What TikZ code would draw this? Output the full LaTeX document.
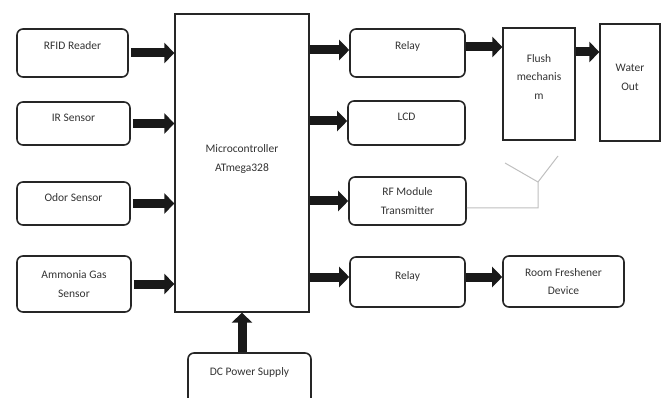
\documentclass[tikz,border=0pt]{standalone}
\usepackage{fontspec}
\setmainfont{Carlito}
\usetikzlibrary{arrows.meta,positioning,calc}
\tikzset{
	blockbox/.style={rectangle, draw=black!85, line width=1.6pt, rounded corners=6pt,
		align=center, font=\fontsize{11.5}{18.5}\selectfont, text=black!80, inner sep=2pt},
	plainbox/.style={blockbox, rounded corners=0pt, line width=1.3pt},
	raise/.style={text depth=#1},
	busarr/.style={-{Triangle[length=10pt,width=20pt]}, line width=9pt, black!90},
	antenna/.style={draw=black!25, line width=1pt}
}

\begin{document}
\begin{tikzpicture}[x=1pt,y=-1pt]
	\useasboundingbox (0,0) rectangle (664,398);
	% inputs
	\node[blockbox, minimum width=111pt, minimum height=48pt, raise=14pt] (rfid) at (72.5,53) {RFID Reader};
	\node[blockbox, minimum width=113pt, minimum height=43pt, raise=12pt] (ir) at (73.5,123.5) {IR Sensor};
	\node[blockbox, minimum width=113pt, minimum height=43pt, raise=12pt] (odor) at (73.5,203.5) {Odor Sensor};
	\node[blockbox, minimum width=114pt, minimum height=56pt] (nh3) at (74,284) {Ammonia Gas\\Sensor};
	% controller
	\node[plainbox, minimum width=134pt, minimum height=298pt, raise=10pt] (mcu) at (242,163) {Microcontroller\\ATmega328};
	\node[blockbox, minimum width=123pt, minimum height=52pt, raise=14pt] (dc) at (249.5,379) {DC Power Supply};
	% outputs
	\node[blockbox, minimum width=115pt, minimum height=48pt, raise=14pt] (relay) at (407.5,53) {Relay};
	\node[blockbox, minimum width=117pt, minimum height=44pt, raise=12pt] (lcd) at (406.5,123) {LCD};
	\node[blockbox, minimum width=117pt, minimum height=48pt] (rf) at (407.5,201) {RF Module\\Transmitter};
	\node[blockbox, minimum width=115pt, minimum height=50pt, raise=12pt] (relay2) at (407.5,282) {Relay};
	\node[blockbox, minimum width=121pt, minimum height=51pt] (room) at (563.5,281.5) {Room Freshener\\Device};
	\node[plainbox, minimum width=72pt, minimum height=112pt, raise=14pt] (flush) at (539,84) {Flush\\mechanis\\m};
	\node[plainbox, minimum width=60pt, minimum height=117pt, raise=10pt] (water) at (630,82.5) {Water\\Out};
	% arrows into the controller
	\foreach \src in {rfid,ir,odor,nh3}
		\draw[busarr] ([xshift=2pt]\src.east) -- (\src.east -| mcu.west);
	\draw[busarr] (dc.north -| mcu.south) -- (mcu.south);
	% arrows out of the controller
	\draw[busarr] ([yshift=3pt]relay.west -| mcu.east) -- ([yshift=3pt]relay.west);
	\draw[busarr] ([yshift=2pt]lcd.west -| mcu.east) -- ([yshift=2pt]lcd.west);
	\draw[busarr] (rf.west -| mcu.east) -- (rf.west);
	\draw[busarr] ([yshift=5pt]relay2.west -| mcu.east) -- ([yshift=5pt]relay2.west);
	\draw[busarr] ([yshift=6pt]relay.east) -- ([yshift=6pt]relay.east -| flush.west);
	\draw[busarr] ([yshift=32pt]flush.east) -- ([yshift=32pt]flush.east -| water.west);
	\draw[busarr] ([yshift=5pt]relay2.east) -- ([yshift=5pt]relay2.east -| room.west);
	% antenna
	\coordinate (antbase) at (538,182);
	\coordinate (antl) at (505,163);
	\coordinate (antr) at (558,156);
	\draw[antenna] ([yshift=-7pt]rf.east) -| (antbase) -- (antl);
	\draw[antenna] (antbase) -- (antr);
\end{tikzpicture}
\end{document}
